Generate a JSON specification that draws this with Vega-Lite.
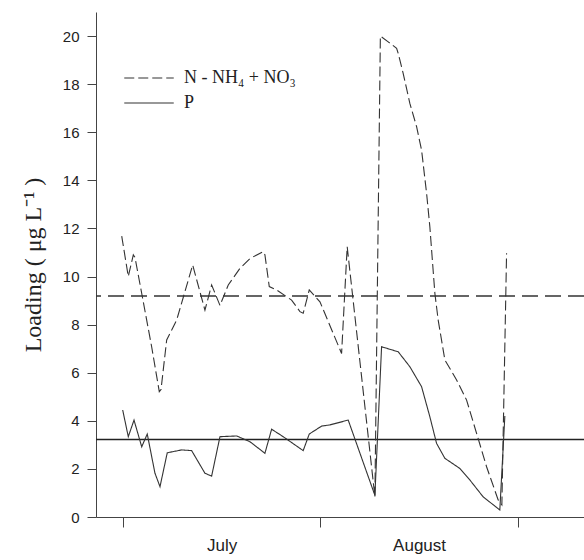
{
  "$schema": "https://vega.github.io/schema/vega-lite/v6.json",
  "width": 488,
  "height": 505,
  "autosize": {"type": "none"},
  "padding": {"left": 96, "top": 12, "right": 0, "bottom": 43},
  "background": "white",
  "config": {
    "view": {"stroke": null},
    "axis": {"domainColor": "#444", "tickColor": "#444", "grid": false, "labelFont": "Liberation Sans", "labelColor": "#222"}
  },
  "datasets": {
    "loading": [
      {"series": "N - NH₄ + NO₃", "day": -0.2, "value": 11.68},
      {"series": "N - NH₄ + NO₃", "day": 0.83, "value": 10.0},
      {"series": "N - NH₄ + NO₃", "day": 1.62, "value": 10.9},
      {"series": "N - NH₄ + NO₃", "day": 1.88, "value": 10.8},
      {"series": "N - NH₄ + NO₃", "day": 4.5, "value": 7.08},
      {"series": "N - NH₄ + NO₃", "day": 5.7, "value": 5.21},
      {"series": "N - NH₄ + NO₃", "day": 5.97, "value": 5.3},
      {"series": "N - NH₄ + NO₃", "day": 6.86, "value": 7.36},
      {"series": "N - NH₄ + NO₃", "day": 8.43, "value": 8.19},
      {"series": "N - NH₄ + NO₃", "day": 10.94, "value": 10.48},
      {"series": "N - NH₄ + NO₃", "day": 12.87, "value": 8.6},
      {"series": "N - NH₄ + NO₃", "day": 13.92, "value": 9.65},
      {"series": "N - NH₄ + NO₃", "day": 15.23, "value": 8.8},
      {"series": "N - NH₄ + NO₃", "day": 16.53, "value": 9.65},
      {"series": "N - NH₄ + NO₃", "day": 18.37, "value": 10.34},
      {"series": "N - NH₄ + NO₃", "day": 19.94, "value": 10.75},
      {"series": "N - NH₄ + NO₃", "day": 22.03, "value": 11.03},
      {"series": "N - NH₄ + NO₃", "day": 22.29, "value": 10.9},
      {"series": "N - NH₄ + NO₃", "day": 22.97, "value": 9.58},
      {"series": "N - NH₄ + NO₃", "day": 24.13, "value": 9.44},
      {"series": "N - NH₄ + NO₃", "day": 25.7, "value": 9.16},
      {"series": "N - NH₄ + NO₃", "day": 26.48, "value": 9.02},
      {"series": "N - NH₄ + NO₃", "day": 27.79, "value": 8.54},
      {"series": "N - NH₄ + NO₃", "day": 28.3, "value": 8.47},
      {"series": "N - NH₄ + NO₃", "day": 29.25, "value": 9.44},
      {"series": "N - NH₄ + NO₃", "day": 30.93, "value": 8.95},
      {"series": "N - NH₄ + NO₃", "day": 34.33, "value": 6.8},
      {"series": "N - NH₄ + NO₃", "day": 35.21, "value": 11.24},
      {"series": "N - NH₄ + NO₃", "day": 39.56, "value": 0.84},
      {"series": "N - NH₄ + NO₃", "day": 40.42, "value": 20.0},
      {"series": "N - NH₄ + NO₃", "day": 41.65, "value": 19.76},
      {"series": "N - NH₄ + NO₃", "day": 42.97, "value": 19.49},
      {"series": "N - NH₄ + NO₃", "day": 43.22, "value": 19.28},
      {"series": "N - NH₄ + NO₃", "day": 44.0, "value": 18.45},
      {"series": "N - NH₄ + NO₃", "day": 45.05, "value": 17.2},
      {"series": "N - NH₄ + NO₃", "day": 46.11, "value": 16.23},
      {"series": "N - NH₄ + NO₃", "day": 46.89, "value": 15.26},
      {"series": "N - NH₄ + NO₃", "day": 47.68, "value": 13.46},
      {"series": "N - NH₄ + NO₃", "day": 48.19, "value": 12.07},
      {"series": "N - NH₄ + NO₃", "day": 48.98, "value": 9.3},
      {"series": "N - NH₄ + NO₃", "day": 49.5, "value": 8.19},
      {"series": "N - NH₄ + NO₃", "day": 50.55, "value": 6.53},
      {"series": "N - NH₄ + NO₃", "day": 52.39, "value": 5.7},
      {"series": "N - NH₄ + NO₃", "day": 53.96, "value": 4.86},
      {"series": "N - NH₄ + NO₃", "day": 55.53, "value": 3.48},
      {"series": "N - NH₄ + NO₃", "day": 57.1, "value": 2.09},
      {"series": "N - NH₄ + NO₃", "day": 58.92, "value": 0.71},
      {"series": "N - NH₄ + NO₃", "day": 59.5, "value": 0.5},
      {"series": "N - NH₄ + NO₃", "day": 60.24, "value": 10.97},
      {"series": "P", "day": -0.05, "value": 4.45},
      {"series": "P", "day": 0.83, "value": 3.34},
      {"series": "P", "day": 1.73, "value": 4.03},
      {"series": "P", "day": 2.94, "value": 2.92},
      {"series": "P", "day": 3.81, "value": 3.45},
      {"series": "P", "day": 5.02, "value": 1.82},
      {"series": "P", "day": 5.81, "value": 1.26},
      {"series": "P", "day": 6.95, "value": 2.67},
      {"series": "P", "day": 9.21, "value": 2.79},
      {"series": "P", "day": 10.78, "value": 2.76},
      {"series": "P", "day": 12.87, "value": 1.82},
      {"series": "P", "day": 13.92, "value": 1.7},
      {"series": "P", "day": 15.23, "value": 3.34},
      {"series": "P", "day": 17.85, "value": 3.37},
      {"series": "P", "day": 19.94, "value": 3.13},
      {"series": "P", "day": 22.29, "value": 2.65},
      {"series": "P", "day": 23.34, "value": 3.65},
      {"series": "P", "day": 25.16, "value": 3.34},
      {"series": "P", "day": 28.3, "value": 2.76},
      {"series": "P", "day": 29.25, "value": 3.45},
      {"series": "P", "day": 31.19, "value": 3.78},
      {"series": "P", "day": 32.5, "value": 3.83},
      {"series": "P", "day": 35.37, "value": 4.03},
      {"series": "P", "day": 39.56, "value": 0.9},
      {"series": "P", "day": 40.61, "value": 7.08},
      {"series": "P", "day": 43.22, "value": 6.87},
      {"series": "P", "day": 45.05, "value": 6.25},
      {"series": "P", "day": 46.89, "value": 5.42},
      {"series": "P", "day": 48.19, "value": 4.17},
      {"series": "P", "day": 49.25, "value": 3.06},
      {"series": "P", "day": 50.55, "value": 2.44},
      {"series": "P", "day": 52.9, "value": 2.02},
      {"series": "P", "day": 54.47, "value": 1.54},
      {"series": "P", "day": 56.56, "value": 0.84},
      {"series": "P", "day": 59.18, "value": 0.29},
      {"series": "P", "day": 59.97, "value": 4.2}
    ],
    "means": [
      {"series": "N - NH₄ + NO₃", "mean": 9.19},
      {"series": "P", "mean": 3.22}
    ]
  },
  "layer": [
    {
      "data": {"name": "means"},
      "transform": [{"filter": "datum.series == 'P'"}],
      "mark": {"type": "rule", "color": "#222", "strokeWidth": 1.5},
      "encoding": {"y": {"field": "mean", "type": "quantitative", "scale": {"domain": [0, 21], "nice": false}}}
    },
    {
      "data": {"name": "means"},
      "transform": [{"filter": "datum.series != 'P'"}],
      "mark": {"type": "rule", "color": "#333", "strokeWidth": 1.6, "strokeDash": [16, 7]},
      "encoding": {"y": {"field": "mean", "type": "quantitative"}}
    },
    {
      "data": {"name": "loading"},
      "mark": {"type": "line", "color": "#333", "strokeWidth": 1.1},
      "encoding": {
        "x": {
          "field": "day", "type": "quantitative",
          "scale": {"domain": [-4.24, 72.4], "nice": false, "zero": false},
          "axis": {
            "title": null,
            "values": [0, 15.5, 31, 46.5, 62],
            "labelExpr": "datum.value == 15.5 ? 'July' : (datum.value == 46.5 ? 'August' : '')",
            "tickOpacity": {"condition": {"test": "datum.value == 15.5 || datum.value == 46.5", "value": 0}, "value": 1},
            "tickSize": 10,
            "labelFontSize": 17,
            "labelPadding": 10,
            "labelOverlap": false,
            "labelFlush": false
          }
        },
        "y": {
          "field": "value", "type": "quantitative",
          "scale": {"domain": [0, 21], "nice": false},
          "axis": {
            "values": [0, 2, 4, 6, 8, 10, 12, 14, 16, 18, 20],
            "tickSize": 9,
            "labelPadding": 8,
            "labelFontSize": 15,
            "title": "Loading ( μg L⁻¹ )",
            "titleFont": "Liberation Serif",
            "titleFontSize": 24,
            "titleFontWeight": "normal",
            "titleColor": "#222",
            "titlePadding": 17
          }
        },
        "strokeDash": {
          "field": "series", "type": "nominal",
          "scale": {"domain": ["N - NH₄ + NO₃", "P"], "range": [[10, 4], [1, 0]]},
          "legend": {
            "orient": "none",
            "legendX": 37,
            "legendY": 50,
            "title": null,
            "padding": 0,
            "symbolType": "M-1.65,0H1.65",
            "symbolSize": 900,
            "symbolStrokeWidth": 1.2,
            "symbolStrokeColor": "#333",
            "labelFont": "Liberation Serif",
            "labelFontSize": 18,
            "labelColor": "#222",
            "labelOffset": 19,
            "rowPadding": 0
          }
        }
      }
    }
  ]
}
